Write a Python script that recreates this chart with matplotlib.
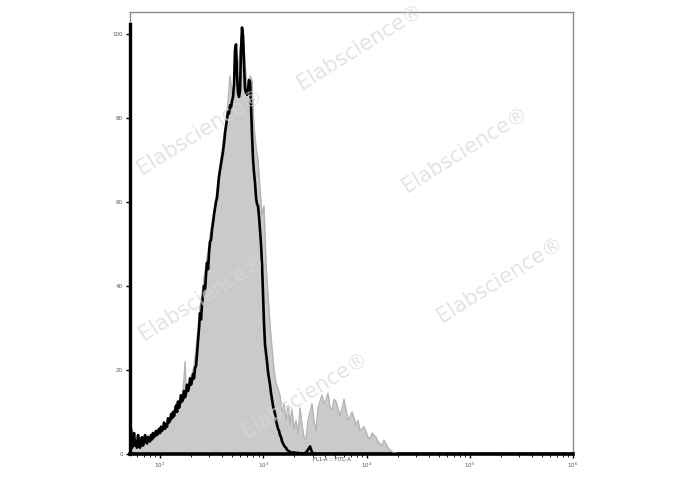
import matplotlib
matplotlib.use('Agg')
import matplotlib.pyplot as plt
import numpy as np
from matplotlib.ticker import FixedLocator, LogLocator, NullFormatter

plt.rcParams.update({
    'font.family': 'DejaVu Sans',
    'figure.facecolor': 'white',
    'axes.facecolor': 'white',
})

# --- Data: FL1-A (FITC) histogram, log10 intensity vs. count (% of max) ---
# control sample (black line)
ctrl_log = [1.709, 1.718, 1.729, 1.738, 1.748, 1.758, 1.768, 1.777, 1.787, 1.797,
            1.806, 1.816, 1.826, 1.835, 1.845, 1.855, 1.864, 1.874, 1.884, 1.893,
            1.903, 1.913, 1.923, 1.932, 1.942, 1.952, 1.961, 1.971, 1.981, 1.990,
            2.000, 2.010, 2.019, 2.029, 2.039, 2.048, 2.058, 2.068, 2.077, 2.087,
            2.097, 2.107, 2.116, 2.126, 2.136, 2.145, 2.155, 2.165, 2.174, 2.184,
            2.194, 2.203, 2.213, 2.223, 2.232, 2.242, 2.252, 2.261, 2.271, 2.281,
            2.291, 2.300, 2.310, 2.320, 2.329, 2.339, 2.349, 2.358, 2.368, 2.378,
            2.387, 2.397, 2.407, 2.416, 2.426, 2.436, 2.446, 2.455, 2.465, 2.475,
            2.484, 2.494, 2.504, 2.513, 2.523, 2.533, 2.542, 2.552, 2.562, 2.571,
            2.581, 2.591, 2.600, 2.610, 2.620, 2.630, 2.639, 2.649, 2.659, 2.668,
            2.678, 2.688, 2.697, 2.707, 2.717, 2.726, 2.736, 2.746, 2.755, 2.765,
            2.775, 2.784, 2.794, 2.804, 2.813, 2.823, 2.833, 2.843, 2.852, 2.862,
            2.872, 2.881, 2.891, 2.901, 2.910, 2.920, 2.930, 2.939, 2.949, 2.959,
            2.969, 2.978, 2.988, 2.998, 3.007, 3.017, 3.027, 3.036, 3.046, 3.056,
            3.065, 3.075, 3.085, 3.094, 3.104, 3.114, 3.123, 3.133, 3.143, 3.153,
            3.162, 3.172, 3.182, 3.191, 3.201, 3.211, 3.220, 3.230, 3.240, 3.259,
            3.278, 3.298, 3.317, 3.337, 3.356, 3.375, 3.395, 3.414, 3.433, 3.453,
            3.472, 3.491, 3.511, 6.000]
ctrl_count = [1.0, 6.0, 1.5, 2.5, 5.0, 2.0, 3.0, 1.5, 4.5, 2.5,
              1.5, 3.5, 4.0, 2.0, 3.0, 4.5, 3.0, 2.5, 4.0, 3.5,
              3.0, 4.5, 3.5, 5.0, 4.0, 4.5, 5.5, 4.5, 5.0, 6.0,
              5.0, 6.5, 5.5, 6.0, 7.5, 6.0, 7.0, 6.5, 8.5, 7.5,
              8.0, 9.5, 8.5, 10.0, 9.0, 10.5, 11.5, 10.0, 12.5, 11.0,
              12.0, 14.0, 12.5, 13.0, 15.0, 13.5, 14.5, 16.5, 15.0, 16.0,
              18.0, 16.5, 17.5, 19.0, 18.0, 20.5, 21.0, 24.0, 27.0, 30.0,
              33.5, 32.0, 36.0, 37.5, 40.0, 39.0, 43.0, 45.5, 44.0, 48.0,
              50.5, 51.0, 53.5, 55.0, 57.0, 58.5, 60.0, 61.0, 63.5, 66.0,
              67.5, 69.0, 70.5, 72.0, 74.0, 76.5, 78.0, 79.5, 81.5, 81.0,
              83.0, 82.5, 84.0, 85.0, 88.0, 96.0, 97.5, 90.0, 86.0, 85.0,
              86.5, 96.0, 101.5, 99.5, 93.0, 87.0, 86.0, 85.5, 87.0, 89.0,
              88.5, 83.0, 76.0, 70.0, 67.0, 64.5, 61.0, 59.5, 59.0, 56.5,
              53.0, 50.0, 45.0, 38.0, 31.0, 26.0, 24.0, 22.0, 19.5, 18.0,
              16.5, 14.5, 13.0, 11.5, 10.5, 9.5, 8.0, 7.0, 6.0, 5.5,
              4.5, 4.0, 3.0, 2.5, 2.0, 1.7, 1.5, 1.0, 0.8, 0.5,
              0.3, 0.4, 0.2, 0.3, 0.1, 0.2, 0.1, 0.4, 1.0, 1.8,
              0.4, 0.1, 0.0, 0.0]

# stained sample (grey filled)
stain_log = [1.709, 1.729, 1.748, 1.768, 1.787, 1.806, 1.826, 1.845, 1.864, 1.884,
             1.903, 1.923, 1.942, 1.961, 1.981, 2.000, 2.019, 2.039, 2.058, 2.077,
             2.097, 2.116, 2.136, 2.155, 2.174, 2.194, 2.213, 2.232, 2.242, 2.252,
             2.271, 2.291, 2.310, 2.329, 2.349, 2.368, 2.387, 2.407, 2.426, 2.446,
             2.465, 2.484, 2.504, 2.523, 2.542, 2.562, 2.581, 2.600, 2.620, 2.639,
             2.659, 2.678, 2.697, 2.717, 2.736, 2.755, 2.775, 2.794, 2.813, 2.833,
             2.852, 2.872, 2.891, 2.910, 2.930, 2.949, 2.969, 2.988, 3.007, 3.017,
             3.027, 3.046, 3.065, 3.085, 3.104, 3.123, 3.143, 3.162, 3.182, 3.201,
             3.220, 3.240, 3.259, 3.278, 3.298, 3.317, 3.337, 3.356, 3.375, 3.395,
             3.414, 3.433, 3.453, 3.472, 3.491, 3.511, 3.530, 3.569, 3.588, 3.608,
             3.627, 3.646, 3.666, 3.685, 3.705, 3.743, 3.763, 3.782, 3.821, 3.840,
             3.860, 3.898, 3.918, 3.937, 3.956, 3.976, 4.015, 4.034, 4.053, 4.092,
             4.111, 4.131, 4.150, 4.169, 4.208, 4.228, 4.247, 4.286, 4.324, 6.000]
stain_count = [1.5, 3.0, 2.0, 4.0, 2.5, 3.5, 2.0, 4.0, 3.0, 4.5,
               3.0, 5.0, 4.0, 5.5, 5.0, 6.0, 5.5, 7.0, 6.5, 8.5,
               8.0, 10.0, 9.5, 12.0, 11.0, 14.0, 12.5, 18.0, 22.0, 15.5,
               15.0, 18.0, 19.0, 21.0, 25.0, 30.0, 35.0, 38.0, 42.0, 45.0,
               48.0, 52.0, 55.0, 58.0, 61.0, 65.0, 69.0, 72.0, 76.0, 79.0,
               84.0, 90.0, 86.0, 88.0, 95.0, 92.0, 96.0, 100.5, 97.0, 90.0,
               87.0, 90.0, 89.0, 78.0, 73.0, 70.0, 63.0, 57.0, 59.0, 52.0,
               45.0, 38.0, 31.0, 25.0, 20.0, 17.0, 15.5, 14.0, 10.0, 12.0,
               8.0, 11.5, 7.0, 10.5, 6.0, 8.0, 5.0, 11.0, 7.0, 4.0,
               3.5, 8.0, 10.0, 12.0, 8.0, 5.5, 11.0, 14.0, 12.0, 13.0,
               14.5, 11.0, 10.5, 13.0, 12.5, 9.0, 11.0, 13.0, 8.0, 9.0,
               10.0, 7.0, 8.0, 5.5, 6.0, 6.5, 4.0, 3.5, 5.0, 4.0,
               3.0, 2.5, 2.0, 3.3, 1.5, 1.0, 0.5, 0.2, 0.0, 0.0]

y_ticks = [0, 20, 40, 60, 80, 100]
x_decades = [2, 3, 4, 5, 6]
x_label = 'FL1-A :: FITC-A'
watermark = 'Elabscience\u00ae'

# --- Plot ---
fig = plt.figure(figsize=(6.88, 4.90), dpi=100)
ax = fig.add_axes([130 / 688, 36 / 490, 443 / 688, 442 / 490])

xmin, xmax = 10 ** 1.709, 10 ** 6
ax.set_xscale('log')
ax.set_xlim(xmin, xmax)
ax.set_ylim(0, 105.2)

xs = 10 ** np.array(stain_log)
ax.fill_between(xs, 0, stain_count, color='#cacaca', lw=0, zorder=2)
ax.plot(xs, stain_count, color='#b4b4b4', lw=1.0, zorder=3)
ax.plot(10 ** np.array(ctrl_log), ctrl_count, color='black', lw=1.9, zorder=4)

# frame: thin grey box, bold black left/bottom axes
for side in ['top', 'right', 'left']:
    ax.spines[side].set_color('#8a8a8a')
    ax.spines[side].set_linewidth(1.0)
ax.spines['bottom'].set_color('black')
ax.spines['bottom'].set_linewidth(2.6)
ax.axvline(xmin, ymin=0, ymax=102.3 / 105.2, color='black', lw=2.4,
           zorder=6, clip_on=False)

ax.set_yticks(y_ticks)
ax.set_yticklabels([str(v) for v in y_ticks])
ax.xaxis.set_major_locator(FixedLocator([10.0 ** d for d in x_decades]))
ax.set_xticklabels([f'$10^{d}$' for d in x_decades])
ax.xaxis.set_minor_locator(LogLocator(base=10, subs=np.arange(2, 10), numticks=20))
ax.xaxis.set_minor_formatter(NullFormatter())
ax.tick_params(axis='both', which='major', direction='out', length=3, width=1,
               labelsize=4, colors='black', pad=1.5)
ax.tick_params(axis='y', labelcolor='#555555', pad=2)
ax.tick_params(axis='x', which='minor', direction='out', length=1.8, width=0.6)
ax.tick_params(axis='x', labelcolor='#555555')

fig.text(332 / 688, 1 - 459 / 490, x_label, fontsize=3.8, color='#444444',
         ha='center', va='center')

# watermarks
wm_pos = [(200, 132), (360, 47), (465, 150), (202, 298), (500, 280), (305, 395)]
for px, py in wm_pos:
    fig.text(px / 688, 1 - py / 490, watermark, fontsize=15, color='#d8d8d8',
             alpha=0.7, rotation=32, ha='center', va='center', zorder=10)

fig.savefig('out.png', dpi=100)
